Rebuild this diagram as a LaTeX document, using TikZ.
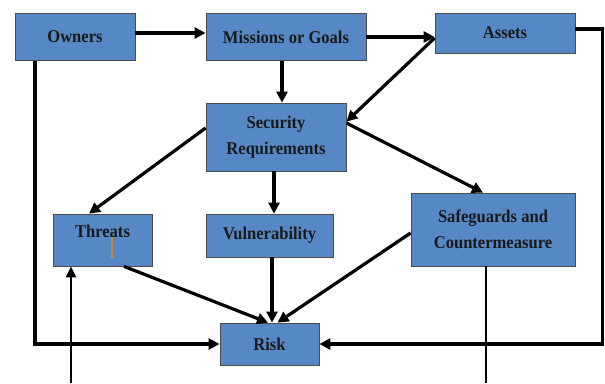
\documentclass[tikz,border=0pt]{standalone}
\usepackage{fontspec}
\setmainfont{Liberation Serif}[FakeStretch=0.92]
\usetikzlibrary{arrows.meta}
\definecolor{boxblue}{RGB}{86,136,198}
\definecolor{cursor}{RGB}{200,138,58}
\begin{document}
\begin{tikzpicture}[x=1pt,y=-1pt,
  box/.style={draw=black!70, line width=0.8pt, fill=boxblue, text=black!90,
    font=\fontsize{18}{26}\selectfont\bfseries, align=center, inner sep=0pt},
  arr/.style={line width=3.2pt, -{Triangle[length=11pt,width=11pt]}},
  thinarr/.style={line width=2.4pt, -{Triangle[length=11pt,width=10pt]}},
  thinline/.style={line width=2.4pt}
]
\useasboundingbox (0,0) rectangle (605,383);
% nodes
\node[box, minimum width=120, minimum height=47] (o) at (75,37) {Owners};
\node[box, minimum width=160, minimum height=47] (m) at (286,37) {Missions or Goals};
\node[box, minimum width=140, minimum height=40] (a) at (505,33) {Assets};
\node[box, minimum width=140, minimum height=68] (sr) at (276,137) {Security\\Requirements};
\node[box, minimum width=99, minimum height=52, text depth=18pt] (t) at (102.5,240) {Threats};
\node[box, minimum width=127, minimum height=43] (v) at (269.5,235.5) {Vulnerability};
\node[box, minimum width=164, minimum height=73] (sg) at (493,229.5) {Safeguards and\\Countermeasure};
\node[box, minimum width=99, minimum height=42] (r) at (269.5,344) {Risk};
% free ends
\coordinate (tb) at (71,383);
\coordinate (sgb) at (486,383);
% connectors
\draw[arr] ([yshift=4pt]o.east) -- ([yshift=4pt]o.east -| m.west);
\draw[arr] (m.east) -- (m.east -| a.west);
\draw[arr] ([xshift=-4pt]m.south) -- ([xshift=-4pt]m.south |- sr.north);
\draw[arr] ([yshift=-5pt]a.west) -- ([yshift=-19pt]sr.north east);
\draw[arr] ([yshift=9pt]sr.west) -- ([xshift=-13.5pt]t.north);
\draw[arr] ([xshift=-2pt]sr.south) -- ([xshift=-2pt]sr.south |- v.north);
\draw[arr] ([yshift=14pt]sr.east) -- ([xshift=-10pt]sg.north);
\draw[arr] ([xshift=21.5pt]t.south) -- ([xshift=-1.5pt]r.north);
\draw[arr] ([xshift=2.5pt]v.south) -- ([xshift=2.5pt]v.south |- r.north);
\draw[arr] ([yshift=-3.5pt]sg.west) -- ([xshift=8pt]r.north);
\draw[arr] ([xshift=-40pt]o.south) |- (r.west);
\draw[arr] ([yshift=4pt]a.east) -- ++(27,0) |- (r.east);
\draw[thinarr] (tb) -- (tb |- t.south);
\draw[thinline] (sgb |- sg.south) -- (sgb);
% cursor mark
\draw[cursor, line width=1.5pt] (112,237) -- (112,258);
\end{tikzpicture}
\end{document}
